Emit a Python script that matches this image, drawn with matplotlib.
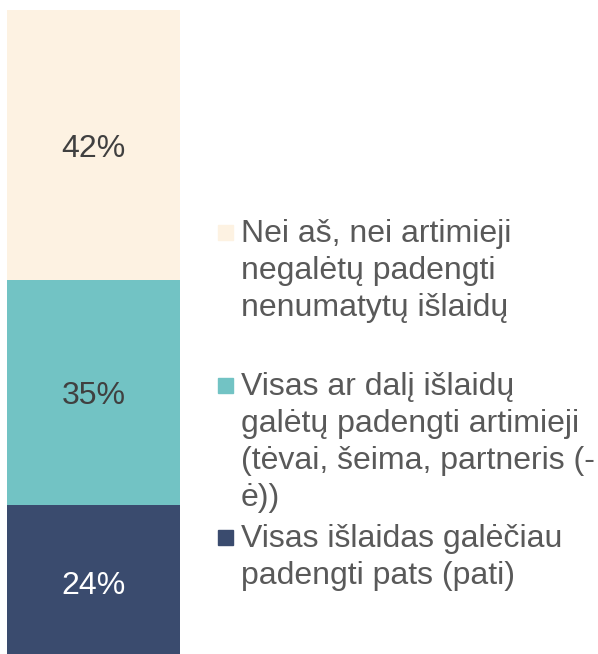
import matplotlib.pyplot as plt
import matplotlib.patches as mpatches

plt.rcParams['font.family'] = ['Liberation Sans', 'DejaVu Sans']

labels = ["Visas išlaidas galėčiau\npadengti pats (pati)",
          "Visas ar dalį išlaidų\ngalėtų padengti artimieji\n(tėvai, šeima, partneris (-\nė))",
          "Nei aš, nei artimieji\nnegalėtų padengti\nnenumatytų išlaidų"]
values = [24, 35, 42]
colors = ["#3a4b6e", "#72c3c4", "#fdf2e2"]
text_colors = ["white", "#404040", "#404040"]

fig = plt.figure(figsize=(5.98, 6.54), dpi=100)
ax = fig.add_axes([7/598, 0, 173/598, 1])

bottom = 0
for v, c, tc in zip(values, colors, text_colors):
    ax.bar(0, v, bottom=bottom, color=c, width=1.0)
    ax.text(0, bottom + v / 2 - 0.6, f"{v}%", ha="center", va="center",
            fontsize=23, color=tc)
    bottom += v

ax.set_xlim(-0.5, 0.5)
ax.set_ylim(0.84, 102.55)
ax.axis("off")

# legend drawn by hand (top entry first)
legend_y = [233, 386, 538]
for lab, c, y in zip(labels[::-1], colors[::-1], legend_y):
    yf = 1 - y / 654
    fig.patches.append(mpatches.Rectangle((218/598, yf - 7/654), 15/598, 15/654,
                                          transform=fig.transFigure, color=c))
    fig.text(241/598, yf + 14/654, lab, ha="left", va="top", fontsize=23,
             color="#595959", linespacing=1.3)

fig.savefig("out.png", dpi=100)
